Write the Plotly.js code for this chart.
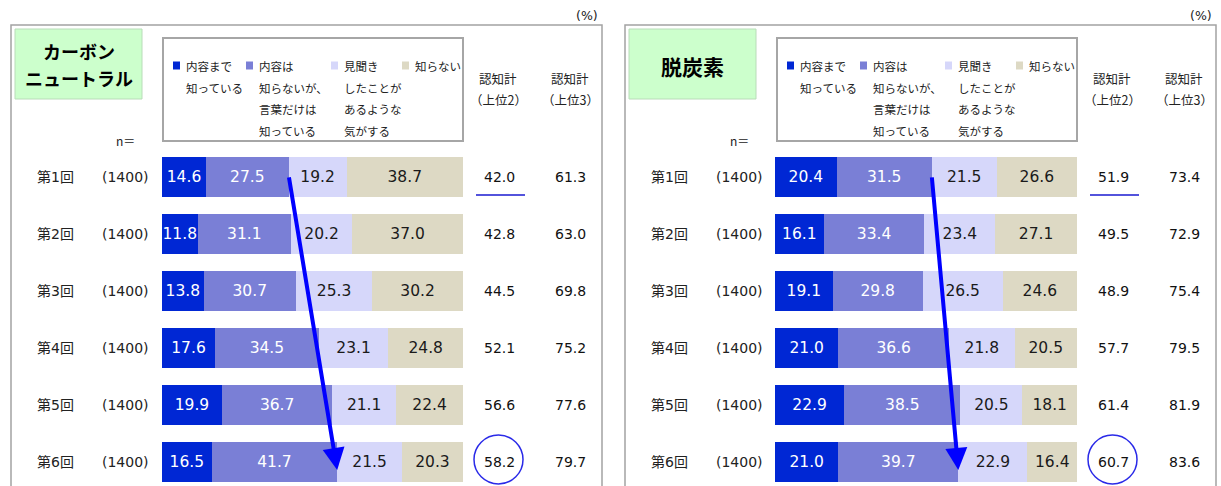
<!DOCTYPE html>
<html>
<head>
<meta charset="utf-8">
<script src="https://cdn.plot.ly/plotly-3.0.1.min.js"></script>
<style>html,body{margin:0;padding:0;background:#fff;}#chart{width:1221px;height:486px;}</style>
</head>
<body>
<div id="chart"></div>
<script>
// ---- data ----
const rounds = ['第1回','第2回','第3回','第4回','第5回','第6回'];
const sampleN = [1400,1400,1400,1400,1400,1400];
const seriesLines = [
  ['内容まで','知っている'],
  ['内容は','知らないが、','言葉だけは','知っている'],
  ['見聞き','したことが','あるような','気がする'],
  ['知らない']
];
const panelTitles = [['カーボン','ニュートラル'], ['脱炭素']];
const top2Header = ['認知計','（上位2）'];
const top3Header = ['認知計','（上位3）'];

// カーボンニュートラル
const cnDetail   = [14.6, 11.8, 13.8, 17.6, 19.9, 16.5];
const cnWordOnly = [27.5, 31.1, 30.7, 34.5, 36.7, 41.7];
const cnHeard    = [19.2, 20.2, 25.3, 23.1, 21.1, 21.5];
const cnUnknown  = [38.7, 37.0, 30.2, 24.8, 22.4, 20.3];
const cnTop2     = [42.0, 42.8, 44.5, 52.1, 56.6, 58.2];
const cnTop3     = [61.3, 63.0, 69.8, 75.2, 77.6, 79.7];

// 脱炭素
const dcDetail   = [20.4, 16.1, 19.1, 21.0, 22.9, 21.0];
const dcWordOnly = [31.5, 33.4, 29.8, 36.6, 38.5, 39.7];
const dcHeard    = [21.5, 23.4, 26.5, 21.8, 20.5, 22.9];
const dcUnknown  = [26.6, 27.1, 24.6, 20.5, 18.1, 16.4];
const dcTop2     = [51.9, 49.5, 48.9, 57.7, 61.4, 60.7];
const dcTop3     = [73.4, 72.9, 75.4, 79.5, 81.9, 83.6];

// ---- style ----
const W = 1221, H = 486;
const X = px => px / W;
const Y = py => 1 - py / H;
const colors = ['#0027d4', '#7a7fd6', '#d6d7fa', '#ddd9c4'];
const textColors = ['#ffffff', '#ffffff', '#1a1a1a', '#1a1a1a'];
const NUM = 'DejaVu Sans, Noto Sans CJK JP, sans-serif';
const JP = 'Noto Sans CJK JP, sans-serif';
const OFF = 614;

const panels = [
  {series:[cnDetail, cnWordOnly, cnHeard, cnUnknown], top2:cnTop2, top3:cnTop3, xa:'x', xaxis:'xaxis', dx:0, titleSize:18},
  {series:[dcDetail, dcWordOnly, dcHeard, dcUnknown], top2:dcTop2, top3:dcTop3, xa:'x2', xaxis:'xaxis2', dx:OFF, titleSize:21}
];

const traces = [];
const shapes = [];
const annotations = [];

panels.forEach((p, pi) => {
  const dx = p.dx;
  p.series.forEach((vals, si) => {
    traces.push({
      type:'bar', orientation:'h', x: vals, y: rounds, xaxis: p.xa, yaxis:'y',
      marker:{color: colors[si], line:{width:0}},
      width: 0.70,
      texttemplate:'%{x:.1f}', textposition:'inside', insidetextanchor:'middle', textangle:0,
      textfont:{family:NUM, size:15.5, color:textColors[si]},
      hoverinfo:'skip', showlegend:false
    });
  });
  // frame
  shapes.push({type:'rect', xref:'paper', yref:'paper', x0:X(11+dx), x1:X(602+dx), y0:Y(25), y1:Y(500),
    line:{color:'#a3a3a3', width:1.5}, fillcolor:'rgba(0,0,0,0)', layer:'below'});
  // (%)
  annotations.push({xref:'paper', yref:'paper', x:X(600+dx), y:Y(15), xanchor:'right', yanchor:'middle',
    text:'(%)', showarrow:false, font:{family:NUM, size:12.5, color:'#222'}});
  // green title box
  shapes.push({type:'rect', xref:'paper', yref:'paper', x0:X(15+dx), x1:X(142+dx), y0:Y(29), y1:Y(99),
    line:{color:'#b9dcb9', width:1}, fillcolor:'#ccffcc', layer:'below'});
  const tl = panelTitles[pi];
  tl.forEach((t, k) => {
    const cy = tl.length === 1 ? 66 : (k === 0 ? 51 : 78);
    annotations.push({xref:'paper', yref:'paper', x:X(78.5+dx), y:Y(cy), xanchor:'center', yanchor:'middle',
      text:'<b>'+t+'</b>', showarrow:false, font:{family:JP, size:p.titleSize, color:'#000'}});
  });
  // legend box
  shapes.push({type:'rect', xref:'paper', yref:'paper', x0:X(163+dx), x1:X(463+dx), y0:Y(38), y1:Y(141),
    line:{color:'#a6a6a6', width:2}, fillcolor:'#ffffff', layer:'below'});
  const sqLeft = [173, 246, 331, 402];
  const lineY = [66, 87.7, 109.3, 131];
  seriesLines.forEach((lines, si) => {
    const sx = sqLeft[si] + dx;
    shapes.push({type:'rect', xref:'paper', yref:'paper', x0:X(sx), x1:X(sx+7), y0:Y(61.5), y1:Y(69.5),
      line:{width:0}, fillcolor:colors[si]});
    lines.forEach((ln, k) => {
      annotations.push({xref:'paper', yref:'paper', x:X(sx+11), y:Y(lineY[k]), xanchor:'left', yanchor:'middle',
        text:ln, showarrow:false, font:{family:JP, size:11.5, color:'#222'}});
    });
  });
  // headers
  [[top2Header, 498], [top3Header, 570]].forEach(([hdr, cx]) => {
    hdr.forEach((t, k) => {
      annotations.push({xref:'paper', yref:'paper', x:X(cx+dx), y:Y(k === 0 ? 79 : 100), xanchor:'center', yanchor:'middle',
        text:t, showarrow:false, font:{family:JP, size:12.5, color:'#222'}});
    });
  });
  annotations.push({xref:'paper', yref:'paper', x:X(125+dx), y:Y(140), xanchor:'center', yanchor:'middle',
    text:'n＝', showarrow:false, font:{family:JP, size:12, color:'#222'}});
  // row labels, n, totals
  rounds.forEach((r, i) => {
    annotations.push({xref:'paper', yref:'y', x:X(55+dx), y:r, xanchor:'center', yanchor:'middle',
      text:r, showarrow:false, font:{family:NUM, size:14, color:'#222'}});
    annotations.push({xref:'paper', yref:'y', x:X(125+dx), y:r, xanchor:'center', yanchor:'middle',
      text:'(' + sampleN[i] + ')', showarrow:false, font:{family:NUM, size:14, color:'#222'}});
    annotations.push({xref:'paper', yref:'y', x:X(499+dx), y:r, xanchor:'center', yanchor:'middle',
      text:p.top2[i].toFixed(1), showarrow:false, font:{family:NUM, size:14, color:'#111'}});
    annotations.push({xref:'paper', yref:'y', x:X(570+dx), y:r, xanchor:'center', yanchor:'middle',
      text:p.top3[i].toFixed(1), showarrow:false, font:{family:NUM, size:14, color:'#111'}});
  });
  // underline under first top2 value
  shapes.push({type:'line', xref:'paper', yref:'paper', x0:X(476+dx), x1:X(525+dx), y0:Y(195), y1:Y(195),
    line:{color:'#1a1ad0', width:1.5}});
  // circle around last top2 value
  shapes.push({type:'circle', xref:'paper', yref:'paper', x0:X(474+dx), x1:X(523+dx), y0:Y(435), y1:Y(484),
    line:{color:'#2a2ae8', width:1.5}, fillcolor:'rgba(0,0,0,0)'});
  // arrow from top-2 boundary of first round to last round
  const first2 = p.series[0][0] + p.series[1][0];
  const last2 = p.series[0][5] + p.series[1][5];
  annotations.push({xref:p.xa, yref:'y', axref:p.xa, ayref:'y',
    x:last2, y:5.14, ax:first2, ay:-0.02, text:'', showarrow:true,
    arrowhead:2, arrowsize:1.1, arrowwidth:4, arrowcolor:'#0000ff', standoff:0, startstandoff:0});
});

const axisBase = {range:[0,100], showgrid:false, zeroline:false, showticklabels:false, showline:false, ticks:'', fixedrange:true};
const layout = {
  width:W, height:H, margin:{l:0, r:0, t:0, b:0},
  paper_bgcolor:'#ffffff', plot_bgcolor:'rgba(0,0,0,0)',
  barmode:'stack', bargap:0,
  xaxis: Object.assign({}, axisBase, {domain:[X(162), X(463)]}),
  xaxis2: Object.assign({}, axisBase, {domain:[X(162+OFF-1), X(463+OFF)], anchor:'y'}),
  yaxis: {type:'category', range:[5.421, -3.105], domain:[0,1], showgrid:false, zeroline:false,
          showticklabels:false, showline:false, ticks:'', fixedrange:true},
  uniformtext:{mode:'show', minsize:15.5},
  shapes: shapes,
  annotations: annotations,
  font:{family:NUM, color:'#222'}
};

Plotly.newPlot('chart', traces, layout, {staticPlot:true, displayModeBar:false});
</script>
</body>
</html>
